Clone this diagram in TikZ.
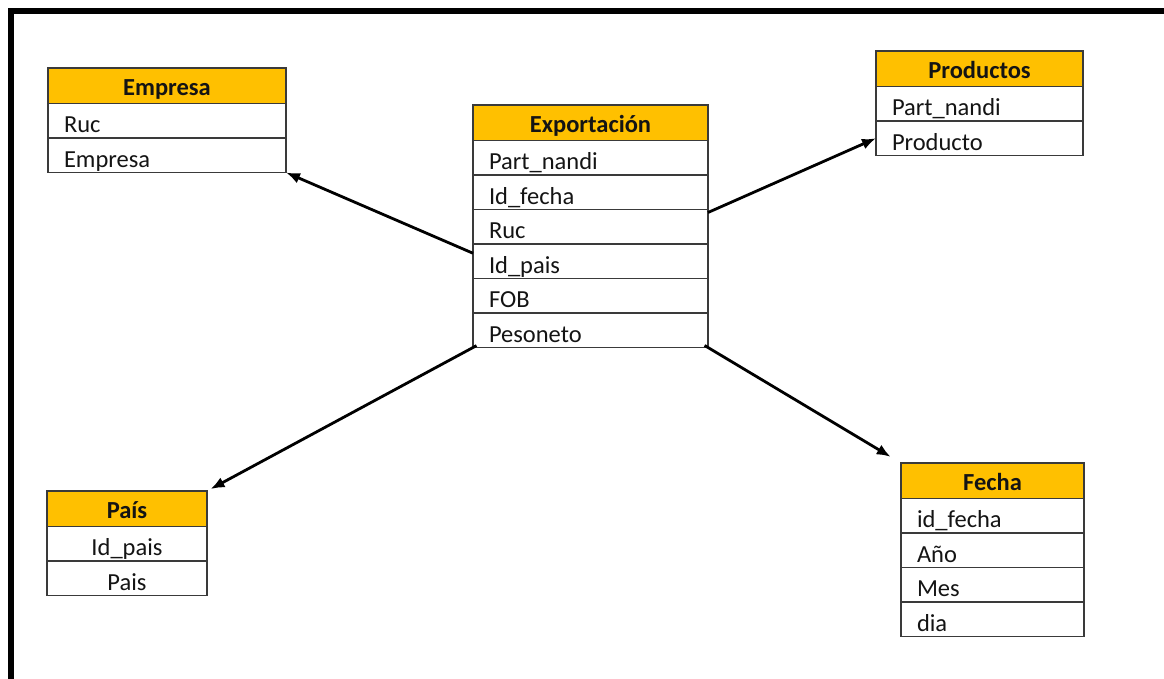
\documentclass[tikz,border=0pt]{standalone}
\usepackage{fontspec}
\setmainfont{Carlito}
\usetikzlibrary{arrows.meta,positioning}
\definecolor{gold}{HTML}{FFC000}
\definecolor{tline}{HTML}{3A3A3A}
\definecolor{ttext}{HTML}{141414}
\begin{document}
\begin{tikzpicture}[x=1pt,y=-1pt,
  hdr/.style={draw=tline, line width=1.4pt, fill=gold, minimum width=#1, minimum height=35.5pt,
    inner sep=0pt, outer sep=0pt, text height=24pt, text depth=4pt, text=ttext,
    font=\fontsize{24.5}{28}\selectfont\bfseries, anchor=north west},
  fld/.style={draw=tline, line width=1.4pt, fill=white, text width=#1, inner xsep=16pt, inner ysep=0pt,
    outer sep=0pt, minimum height=34.5pt, text height=26pt, text depth=2pt, align=left, text=ttext,
    font=\fontsize{24.5}{28}\selectfont},
  fldc/.style={fld=#1, align=center},
  conn/.style={-{Latex[length=14pt,width=11pt]}, line width=2.8pt, black}]
\useasboundingbox (0,0) rectangle (1164,678);
\fill[white] (0,0) rectangle (1164,678);
% frame (top and left edges only)
\draw[line width=6pt] (10.5,700) -- (10.5,10.5) -- (1180,10.5);

% Empresa
\node[hdr=238pt] (emp) at (48,68) {Empresa};
\node[fld=206pt, below=0pt of emp] (emp-1) {Ruc};
\node[fld=206pt, below=0pt of emp-1] (emp-2) {Empresa};

% Productos
\node[hdr=207pt] (prod) at (876,51) {Productos};
\node[fld=175pt, below=0pt of prod] (prod-1) {Part\_nandi};
\node[fld=175pt, below=0pt of prod-1] (prod-2) {Producto};

% Exportacion
\node[hdr=235pt] (exp) at (473,105) {Exportación};
\node[fld=203pt, below=0pt of exp] (exp-1) {Part\_nandi};
\node[fld=203pt, below=0pt of exp-1] (exp-2) {Id\_fecha};
\node[fld=203pt, below=0pt of exp-2] (exp-3) {Ruc};
\node[fld=203pt, below=0pt of exp-3] (exp-4) {Id\_pais};
\node[fld=203pt, below=0pt of exp-4] (exp-5) {FOB};
\node[fld=203pt, below=0pt of exp-5] (exp-6) {Pesoneto};

% Pais
\node[hdr=160pt] (pais) at (47,491) {País};
\node[fldc=128pt, below=0pt of pais] (pais-1) {Id\_pais};
\node[fldc=128pt, below=0pt of pais-1] (pais-2) {Pais};

% Fecha
\node[hdr=183pt] (fec) at (901,463) {Fecha};
\node[fld=151pt, below=0pt of fec] (fec-1) {id\_fecha};
\node[fld=151pt, below=0pt of fec-1] (fec-2) {Año};
\node[fld=151pt, below=0pt of fec-2] (fec-3) {Mes};
\node[fld=151pt, below=0pt of fec-3] (fec-4) {dia};

% connectors
\draw[conn] ([yshift=8pt]exp-4.west) -- (emp-2.south east);
\draw[conn] ([yshift=-3pt]exp-2.south east) -- (prod-2.west);
\draw[conn, shorten <=-4pt, shorten >=4pt] (exp-6.south west) -- (pais.north east);
\draw[conn, shorten <=-4pt, shorten >=12pt] (exp-6.south east) -- (fec.north west);
\end{tikzpicture}
\end{document}
